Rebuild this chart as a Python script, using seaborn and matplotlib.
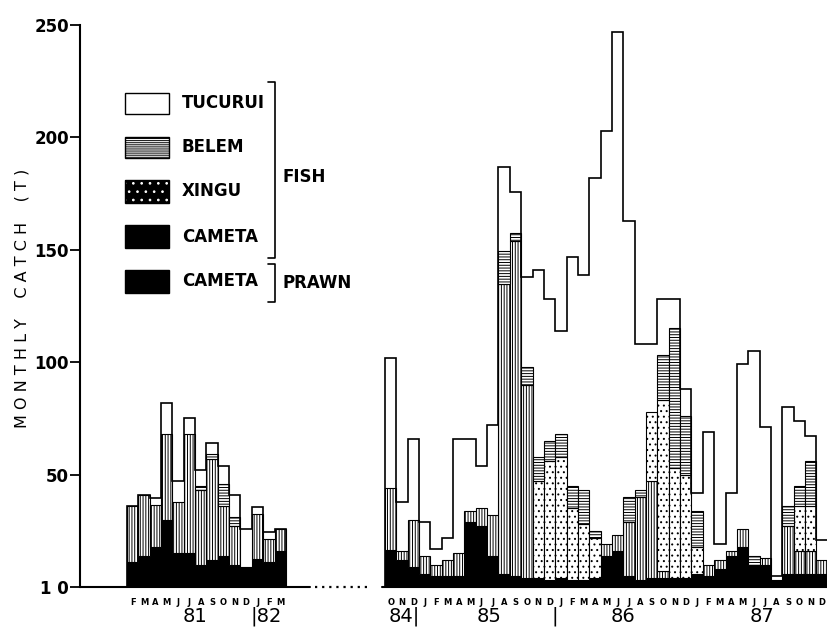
import numpy as np
import matplotlib
matplotlib.use("Agg")
import matplotlib.pyplot as plt
import seaborn as sns
from matplotlib.patches import Rectangle
from matplotlib.lines import Line2D

# --- data (tonnes per month) ----------------------------------------------
months_81 = list("FMAMJJASONDJFM")                    # Feb 81 .. Mar 82
months_84 = list("OND" + "JFMAMJJASOND" * 3)          # Oct 84 .. Dec 87

prawn_81 = [11, 14, 18, 30, 15, 15, 10, 12, 14, 10, 9, 12.5, 11, 16]
fish_81 = [25, 27, 18.5, 38, 23, 53, 33, 45, 22, 17, 0, 20, 10.5, 10]
xingu_81 = [0] * 14
belem_81 = [0, 0, 0, 0, 0, 0, 2, 2, 10, 4, 0, 0, 0, 0]
tucurui_81 = [0, 0, 3, 14, 9, 7, 7, 5, 8, 10, 17, 3, 3, 0]

prawn_84 = [16.5, 12, 9, 6, 5, 5, 5, 29, 27, 14, 6, 5, 4, 4, 3, 4, 3, 3, 4, 14,
            16, 5, 3, 4, 4, 4, 4, 6, 5, 8, 14, 18, 10, 10, 3, 6, 6, 6, 6]
fish_84 = [27.5, 4, 21, 8, 5, 7, 10, 5, 8, 18, 129, 149, 86, 0, 0, 0, 0, 0, 0, 5,
           7, 24, 37, 43, 3, 0, 0, 0, 5, 4, 2, 8, 0, 3, 0, 21, 10, 10, 6]
xingu_84 = [0, 0, 0, 0, 0, 0, 0, 0, 0, 0, 0, 0, 0, 43, 53, 54, 32, 25, 18, 0,
            0, 0, 0, 31, 76, 49, 46, 12, 0, 0, 0, 0, 0, 0, 0, 0, 20, 20, 0]
belem_84 = [0, 0, 0, 0, 0, 0, 0, 0, 0, 0, 14.5, 3.5, 8, 11, 9, 10, 10, 15, 3, 0,
            0, 11, 3, 0, 20, 62, 26, 16, 0, 0, 0, 0, 4, 0, 0, 9, 9, 20, 0]
tucurui_84 = [58, 22, 36, 15, 7, 10, 51, 32, 19, 40, 37.5, 18, 40, 83, 63, 46, 102, 96,
              157, 184, 224, 123, 65, 30, 25, 13, 12, 8, 59, 7, 26, 73, 91, 58, 2, 44,
              29, 11, 9]

series_names = ["CAMETA prawn", "CAMETA fish", "XINGU", "BELEM", "TUCURUI"]

year_labels = ["81", "|82", "84|", "85", "|", "86", "87"]

GAP = 22.73  # broken axis: Oct 84 starts here (month units)

styles = {
    "CAMETA prawn": dict(facecolor="black", hatch=None),
    "CAMETA fish": dict(facecolor="white", hatch="||||||"),
    "XINGU": dict(facecolor="white", hatch="..."),
    "BELEM": dict(facecolor="white", hatch="------"),
}

sns.set_style("ticks")
plt.rcParams["font.family"] = ["DejaVu Sans"]
plt.rcParams["hatch.linewidth"] = 0.7
plt.rcParams["patch.force_edgecolor"] = False
for key in ["text.color", "axes.labelcolor", "xtick.color", "ytick.color", "axes.edgecolor"]:
    plt.rcParams[key] = "black"

W, H = 828, 634
fig = plt.figure(figsize=(W / 100, H / 100), dpi=100)
ax = fig.add_axes([80 / W, 47 / H, 748 / W, 562 / H])


def draw_segment(ax, x0, layers):
    n = len(layers[0])
    x = x0 + np.arange(n)
    bottom = np.zeros(n)
    for name, vals in zip(series_names, layers):
        vals = np.asarray(vals, dtype=float)
        m = vals > 0
        if name in styles:
            ax.bar(x[m], vals[m], width=1, bottom=bottom[m], align="edge",
                   edgecolor="black", linewidth=0.8, **styles[name])
        bottom = bottom + vals
    # tucurui: white, only the outer step outline shows
    ax.stairs(bottom, np.append(x, x[-1] + 1), baseline=0, color="black", lw=1.2)
    return x


x81 = draw_segment(ax, 0, [prawn_81, fish_81, xingu_81, belem_81, tucurui_81])
x84 = draw_segment(ax, GAP, [prawn_84, fish_84, xingu_84, belem_84, tucurui_84])

ax.set_xlim(-4.14, 61.76)
ax.set_ylim(0, 250)

# axes / ticks
ax.set_yticks([0, 50, 100, 150, 200, 250])
ax.set_yticklabels(["1 0", "50", "100", "150", "200", "250"],
                   fontsize=12, fontweight="bold")
ax.tick_params(axis="y", length=7, width=1.3, direction="out", pad=1)
ax.set_xticks(np.concatenate([x81, x84]) + 0.5)
ax.set_xticklabels(months_81 + months_84, fontsize=6, fontweight="bold")
ax.tick_params(axis="x", length=0, pad=8)
sns.despine(ax=ax, top=True, right=True, bottom=True)
ax.spines["left"].set_linewidth(1.5)

# broken baseline
ax.plot([-4.14, 16.1], [0, 0], color="black", lw=1.5, clip_on=False)
ax.plot([16.6, 21.3], [0, 0], color="black", lw=1.6, ls=(0, (1, 2.2)), clip_on=False)
ax.plot([GAP - 0.3, 61.76], [0, 0], color="black", lw=1.5, clip_on=False)

# year labels
year_pos = [6.0, 10.9, GAP + 3.05, GAP + 9.2, GAP + 15.0, GAP + 21.0, GAP + 33.2]
year_ha = ["center", "left", "right", "center", "center", "center", "center"]
for lab, xp, ha in zip(year_labels, year_pos, year_ha):
    ax.text(xp, -0.052, lab, transform=ax.get_xaxis_transform(), ha=ha, va="center",
            fontsize=14)

# y label (letter spaced like the original)
ylab = "    ".join(" ".join(w) for w in "MONTHLY CATCH (T)".split())
fig.text(22 / W, 1 - 298 / H, ylab, rotation=90, ha="center", va="center", fontsize=11.5)


# legend drawn by hand, with the FISH / PRAWN brackets
def fx(px):
    return px / W


def fy(py):
    return 1 - py / H


def box(y0, y1, **kw):
    fig.add_artist(Rectangle((fx(125), fy(y1)), fx(169) - fx(125), fy(y0) - fy(y1),
                             transform=fig.transFigure, **kw))


legend_rows = [("TUCURUI", 93, 114), ("BELEM", 137, 158), ("XINGU", 180, 203),
               ("CAMETA", 225, 248), ("CAMETA", 270, 293)]
box(93, 114, facecolor="white", edgecolor="black", lw=1)
box(137, 158, facecolor="white", edgecolor="black", lw=1, hatch="--------")
with plt.rc_context({"hatch.color": "white", "patch.force_edgecolor": False}):
    box(180, 203, facecolor="black", edgecolor=None, hatch="..")
box(180, 203, facecolor="none", edgecolor="black", lw=1)
box(225, 248, facecolor="black", edgecolor="black", lw=1)
box(270, 293, facecolor="black", edgecolor="black", lw=1)
for lab, y0, y1 in legend_rows:
    fig.text(fx(182), fy((y0 + y1) / 2), lab, ha="left", va="center",
             fontsize=12, fontweight="bold")


def bracket(y0, y1):
    fig.add_artist(Line2D([fx(268), fx(275), fx(275), fx(268)],
                          [fy(y0), fy(y0), fy(y1), fy(y1)], color="black", lw=1.2,
                          transform=fig.transFigure))


bracket(82, 258)
bracket(264, 302)
fig.text(fx(283), fy(177), "FISH", ha="left", va="center", fontsize=12, fontweight="bold")
fig.text(fx(283), fy(283), "PRAWN", ha="left", va="center", fontsize=12, fontweight="bold")

fig.savefig("out.png", dpi=100)
